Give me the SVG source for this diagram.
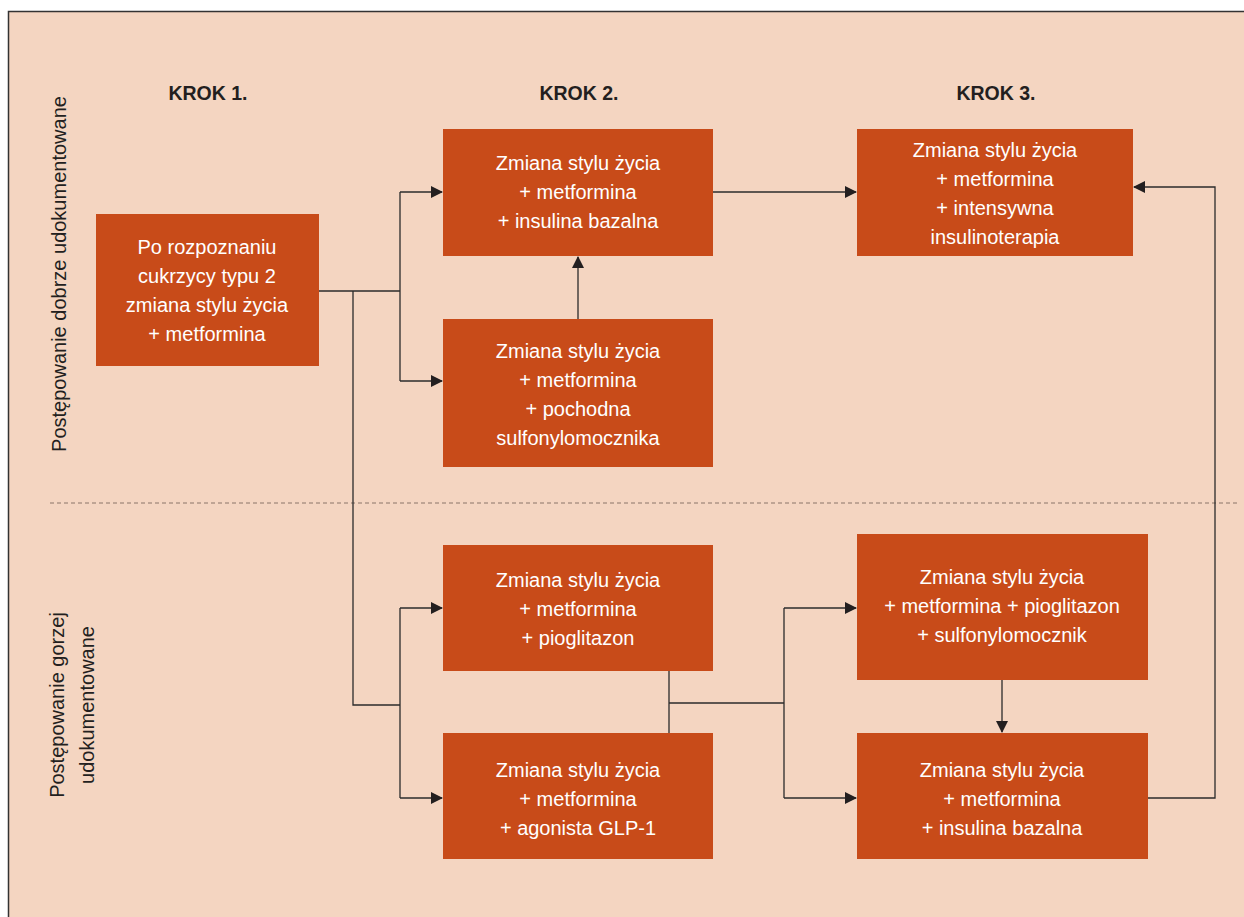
<svg xmlns="http://www.w3.org/2000/svg" width="1244" height="917" viewBox="0 0 1244 917">
<defs>
<style>
.bg{fill:#F4D5C1}
.box{fill:#C84B19}
.t{font-family:"Liberation Sans",Arial,sans-serif;font-size:20px;fill:#fff;text-anchor:middle}
.h{font-family:"Liberation Sans",Arial,sans-serif;font-size:19.5px;font-weight:bold;fill:#231F20;text-anchor:middle}
.v{font-family:"Liberation Sans",Arial,sans-serif;font-size:20px;fill:#231F20;text-anchor:middle}
.c{fill:none;stroke:#2B2B2B;stroke-width:1.3}
</style>
<marker id="ar" markerWidth="12" markerHeight="12" refX="11" refY="6" orient="auto" markerUnits="userSpaceOnUse">
<path d="M0,0 L12,6 L0,12 z" fill="#231F20"/>
</marker>
</defs>
<rect width="1244" height="917" fill="#fff"/>
<rect class="bg" x="8" y="11" width="1236" height="906"/>
<path d="M8.5,917 V11.5 H1244" fill="none" stroke="#333" stroke-width="1.5"/>
<line x1="50" y1="503" x2="1240" y2="503" stroke="#8A7468" stroke-width="1" stroke-dasharray="4,3"/>

<text class="h" x="208" y="100">KROK 1.</text>
<text class="h" x="579" y="100">KROK 2.</text>
<text class="h" x="996" y="100">KROK 3.</text>

<text class="v" transform="translate(66,274) rotate(-90)">Postępowanie dobrze udokumentowane</text>
<text class="v" transform="translate(64,705) rotate(-90)">Postępowanie gorzej</text>
<text class="v" transform="translate(94,705) rotate(-90)">udokumentowane</text>

<g id="connectors">
<path class="c" d="M319,291 H400 M400,192 V381"/>
<path class="c" d="M400,192 H442" marker-end="url(#ar)"/>
<path class="c" d="M400,381 H442" marker-end="url(#ar)"/>
<path class="c" d="M353,291 V705 H400 M400,608 V798"/>
<path class="c" d="M400,608 H442" marker-end="url(#ar)"/>
<path class="c" d="M400,798 H442" marker-end="url(#ar)"/>
<path class="c" d="M713,192 H856" marker-end="url(#ar)"/>
<path class="c" d="M578,319 V257" marker-end="url(#ar)"/>
<path class="c" d="M669,671 V733 M669,703 H784 M784,608 V798"/>
<path class="c" d="M784,608 H856" marker-end="url(#ar)"/>
<path class="c" d="M784,798 H856" marker-end="url(#ar)"/>
<path class="c" d="M1002,680 V732" marker-end="url(#ar)"/>
<path class="c" d="M1148,798 H1215 V187 H1134" marker-end="url(#ar)"/>
</g>

<g id="n1"><rect class="box" x="96" y="214" width="223" height="152"/>
<text class="t" x="207" y="254">Po rozpoznaniu</text>
<text class="t" x="207" y="283">cukrzycy typu 2</text>
<text class="t" x="207" y="312">zmiana stylu życia</text>
<text class="t" x="207" y="341">+ metformina</text></g>

<g id="n2"><rect class="box" x="443" y="129" width="270" height="127"/>
<text class="t" x="578" y="170">Zmiana stylu życia</text>
<text class="t" x="578" y="199">+ metformina</text>
<text class="t" x="578" y="228">+ insulina bazalna</text></g>

<g id="n3"><rect class="box" x="443" y="319" width="270" height="148"/>
<text class="t" x="578" y="358">Zmiana stylu życia</text>
<text class="t" x="578" y="387">+ metformina</text>
<text class="t" x="578" y="416">+ pochodna</text>
<text class="t" x="578" y="445">sulfonylomocznika</text></g>

<g id="n4"><rect class="box" x="857" y="129" width="276" height="127"/>
<text class="t" x="995" y="157">Zmiana stylu życia</text>
<text class="t" x="995" y="186">+ metformina</text>
<text class="t" x="995" y="215">+ intensywna</text>
<text class="t" x="995" y="244">insulinoterapia</text></g>

<g id="n5"><rect class="box" x="443" y="545" width="270" height="126"/>
<text class="t" x="578" y="587">Zmiana stylu życia</text>
<text class="t" x="578" y="616">+ metformina</text>
<text class="t" x="578" y="645">+ pioglitazon</text></g>

<g id="n6"><rect class="box" x="443" y="733" width="270" height="126"/>
<text class="t" x="578" y="777">Zmiana stylu życia</text>
<text class="t" x="578" y="806">+ metformina</text>
<text class="t" x="578" y="835">+ agonista GLP-1</text></g>

<g id="n7"><rect class="box" x="857" y="534" width="291" height="146"/>
<text class="t" x="1002" y="584">Zmiana stylu życia</text>
<text class="t" x="1002" y="613">+ metformina + pioglitazon</text>
<text class="t" x="1002" y="642">+ sulfonylomocznik</text></g>

<g id="n8"><rect class="box" x="857" y="733" width="291" height="126"/>
<text class="t" x="1002" y="777">Zmiana stylu życia</text>
<text class="t" x="1002" y="806">+ metformina</text>
<text class="t" x="1002" y="835">+ insulina bazalna</text></g>
</svg>
